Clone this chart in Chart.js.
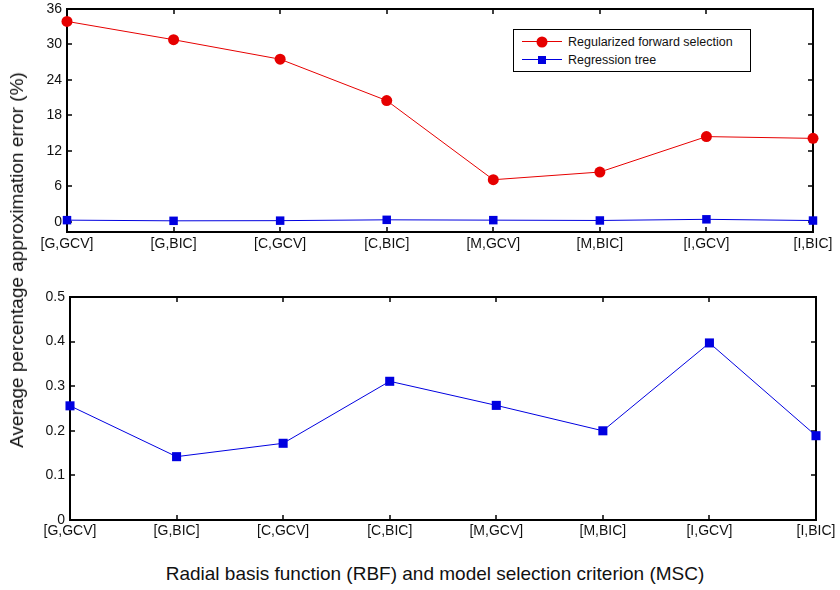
<!DOCTYPE html>
<html>
<head>
<meta charset="utf-8">
<script src="https://cdn.jsdelivr.net/npm/chart.js@4.4.1/dist/chart.umd.min.js"></script>
<style>
    body { margin: 0; background: #fff; font-family: "Liberation Sans", Arial, sans-serif; }
    .wrap { position: relative; width: 840px; height: 590px; }
    canvas { position: absolute; left: 0; }
    #topChart { top: 0; }
    #bottomChart { top: 260px; }
    .ytitle {
        position: absolute; left: 17px; top: 260px; font-size: 19px; white-space: nowrap;
        transform: translate(-50%, -50%) rotate(-90deg); color: #111;
    }
    .xtitle {
        position: absolute; left: 435px; top: 574px; font-size: 19px; white-space: nowrap;
        transform: translate(-50%, -50%); color: #111;
    }
    .legend {
        position: absolute; left: 513px; top: 29px; width: 236px; height: 41px;
        border: 1px solid #000; background: #fff; font-size: 12.5px; color: #111;
    }
    .legend .row { position: absolute; left: 8px; height: 18px; display: flex; align-items: center; }
    .legend .swatch { position: relative; width: 40px; height: 18px; margin-right: 6px; }
    .legend .swatch .ln { position: absolute; left: 0; right: 0; top: 8px; height: 1px; }
    .legend .swatch .mk { position: absolute; left: 50%; top: 50%; transform: translate(-50%, -50%); }
</style>
</head>
<body>
<div class="wrap">
    <canvas id="topChart" width="840" height="260"></canvas>
    <canvas id="bottomChart" width="840" height="280"></canvas>
    <div class="legend">
        <div class="row" style="top: 3px;">
            <div class="swatch"><div class="ln" style="background:#e60000"></div>
                <div class="mk" style="width:11px;height:11px;border-radius:50%;background:#e60000"></div></div>
            <span>Regularized forward selection</span>
        </div>
        <div class="row" style="top: 21px;">
            <div class="swatch"><div class="ln" style="background:#0000e0"></div>
                <div class="mk" style="width:8px;height:8px;background:#0000e0"></div></div>
            <span>Regression tree</span>
        </div>
    </div>
    <div class="ytitle">Average percentage approximation error (%)</div>
    <div class="xtitle">Radial basis function (RBF) and model selection criterion (MSC)</div>
</div>

<script>
// Data
const categories = ['[G,GCV]', '[G,BIC]', '[C,GCV]', '[C,BIC]', '[M,GCV]', '[M,BIC]', '[I,GCV]', '[I,BIC]'];
const forwardSelection = [33.9, 30.8, 27.5, 20.5, 7.1, 8.4, 14.4, 14.1];
const regressionTree = [0.256, 0.142, 0.172, 0.311, 0.257, 0.200, 0.397, 0.189];
const topYTicks = [0, 6, 12, 18, 24, 30, 36];
const bottomYTicks = [0, 0.1, 0.2, 0.3, 0.4, 0.5];

const RED = '#e60000';
const BLUE = '#0000e0';
const FONT = { family: '"Liberation Sans", Arial, sans-serif', size: 14 };

// MATLAB-like box with inward ticks on all four sides
const boxTicks = {
    id: 'boxTicks',
    beforeDatasetsDraw(chart) {
        const { ctx, chartArea: a, scales } = chart;
        const len = 5;
        ctx.save();
        ctx.strokeStyle = '#000';
        ctx.lineWidth = 2;
        ctx.strokeRect(a.left, a.top, a.right - a.left, a.bottom - a.top);
        ctx.lineWidth = 1.5;
        ctx.beginPath();
        scales.x.ticks.forEach((t, i) => {
            const px = Math.round(scales.x.getPixelForTick(i));
            ctx.moveTo(px, a.bottom); ctx.lineTo(px, a.bottom - len);
            ctx.moveTo(px, a.top); ctx.lineTo(px, a.top + len);
        });
        scales.y.ticks.forEach(t => {
            const py = Math.round(scales.y.getPixelForValue(t.value));
            ctx.moveTo(a.left, py); ctx.lineTo(a.left + len, py);
            ctx.moveTo(a.right, py); ctx.lineTo(a.right - len, py);
        });
        ctx.stroke();
        ctx.restore();
    }
};

function makeScales(yMin, yMax, yTicks, yWidth, xHeight, xPad) {
    return {
        x: {
            type: 'category',
            offset: false,
            grid: { display: false, drawTicks: false },
            border: { display: false },
            ticks: { color: '#111', font: FONT, padding: xPad, maxRotation: 0, autoSkip: false },
            afterFit: s => { s.height = xHeight; s.paddingLeft = 0; s.paddingRight = 0; }
        },
        y: {
            min: yMin,
            max: yMax,
            grid: { display: false, drawTicks: false },
            border: { display: false },
            ticks: { color: '#111', font: FONT, padding: 5 },
            afterBuildTicks: s => { s.ticks = yTicks.map(v => ({ value: v })); },
            afterFit: s => { s.width = yWidth; s.paddingTop = 0; s.paddingBottom = 0; }
        }
    };
}

const common = {
    responsive: false,
    animation: false,
    devicePixelRatio: 1,
    plugins: { legend: { display: false }, tooltip: { enabled: false } }
};

new Chart(document.getElementById('topChart'), {
    type: 'line',
    data: {
        labels: categories,
        datasets: [{
            label: 'Regularized forward selection',
            data: forwardSelection,
            borderColor: RED,
            backgroundColor: RED,
            borderWidth: 1,
            pointStyle: 'circle',
            pointRadius: 5.5,
            pointBorderWidth: 0,
            tension: 0,
            clip: false
        }, {
            label: 'Regression tree',
            data: regressionTree,
            borderColor: BLUE,
            backgroundColor: BLUE,
            borderWidth: 1,
            pointStyle: 'rect',
            pointRadius: 6,
            pointBorderWidth: 0,
            tension: 0,
            clip: false
        }]
    },
    options: {
        ...common,
        layout: { padding: { top: 9, right: 27, left: 0, bottom: 0 } },
        scales: makeScales(-1.75, 36, topYTicks, 67, 28, 4)
    },
    plugins: [boxTicks]
});

new Chart(document.getElementById('bottomChart'), {
    type: 'line',
    data: {
        labels: categories,
        datasets: [{
            label: 'Regression tree',
            data: regressionTree,
            borderColor: BLUE,
            backgroundColor: BLUE,
            borderWidth: 1,
            pointStyle: 'rect',
            pointRadius: 6.4,
            pointBorderWidth: 0,
            tension: 0,
            clip: false
        }]
    },
    options: {
        ...common,
        layout: { padding: { top: 37, right: 24, left: 0, bottom: 0 } },
        scales: makeScales(0, 0.5, bottomYTicks, 70, 20, 3)
    },
    plugins: [boxTicks]
});
</script>
</body>
</html>
